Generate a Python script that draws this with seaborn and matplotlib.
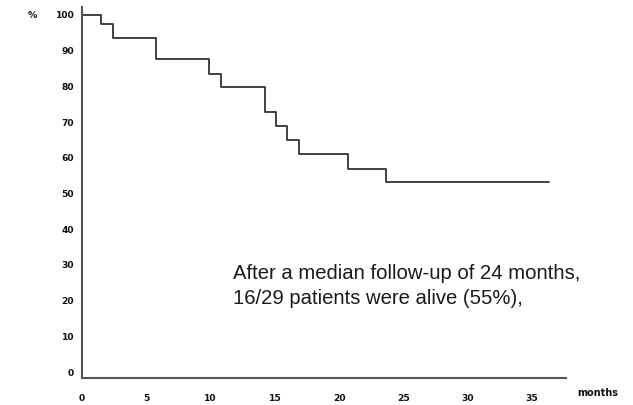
import matplotlib
matplotlib.use("Agg")
import matplotlib.pyplot as plt
import seaborn as sns

# survival curve (months, % alive)
months = [0, 1.45, 2.4, 5.75, 9.85, 10.8, 14.2, 15.05, 15.95, 16.9, 20.65, 23.6, 36.3]
survival = [100, 97.4, 93.6, 87.6, 83.5, 79.7, 72.8, 69.0, 65.0, 61.0, 56.9, 53.1, 53.1]

x_ticks = [0, 5, 10, 15, 20, 25, 30, 35]
y_ticks = [0, 10, 20, 30, 40, 50, 60, 70, 80, 90, 100]
note_lines = ["After a median follow-up of 24 months,",
              "16/29 patients were alive (55%),"]

sns.set_style("white")
plt.rcParams['font.family'] = ['DejaVu Sans']

fig = plt.figure(figsize=(6.33, 4.05), dpi=100)
ax = fig.add_axes([82 / 633, 27 / 405, 483.6 / 633, 371 / 405])

sns.lineplot(x=months, y=survival, drawstyle='steps-post', color='#333333',
             linewidth=1.3, ax=ax)

ax.set_xlim(0, 37.6)
ax.set_ylim(-1.68, 102.2)
ax.set_xticks(x_ticks)
ax.set_yticks(y_ticks)
ax.tick_params(length=0, labelsize=6.6, labelcolor='#111111')
ax.tick_params(axis='y', pad=5.5)
ax.tick_params(axis='x', pad=11.5)
for lab in ax.get_xticklabels() + ax.get_yticklabels():
    lab.set_fontweight('bold')

for side in ['top', 'right']:
    ax.spines[side].set_visible(False)
for side in ['left', 'bottom']:
    ax.spines[side].set_color('#555555')
    ax.spines[side].set_linewidth(1.5)

fig.text(32.5 / 633, 1 - 15 / 405, '%', fontsize=6.8, fontweight='bold',
         color='#111111', ha='center', va='center')
fig.text(577 / 633, 1 - 393 / 405, 'months', fontsize=7, fontweight='bold',
         color='#111111', ha='left', va='center')

for i, line in enumerate(note_lines):
    fig.text(233 / 633, 1 - (279 + 25 * i) / 405, line, fontsize=14.6,
             family='Liberation Sans', color='#1a1a1a', ha='left', va='baseline')

fig.savefig('out.png', dpi=100)
